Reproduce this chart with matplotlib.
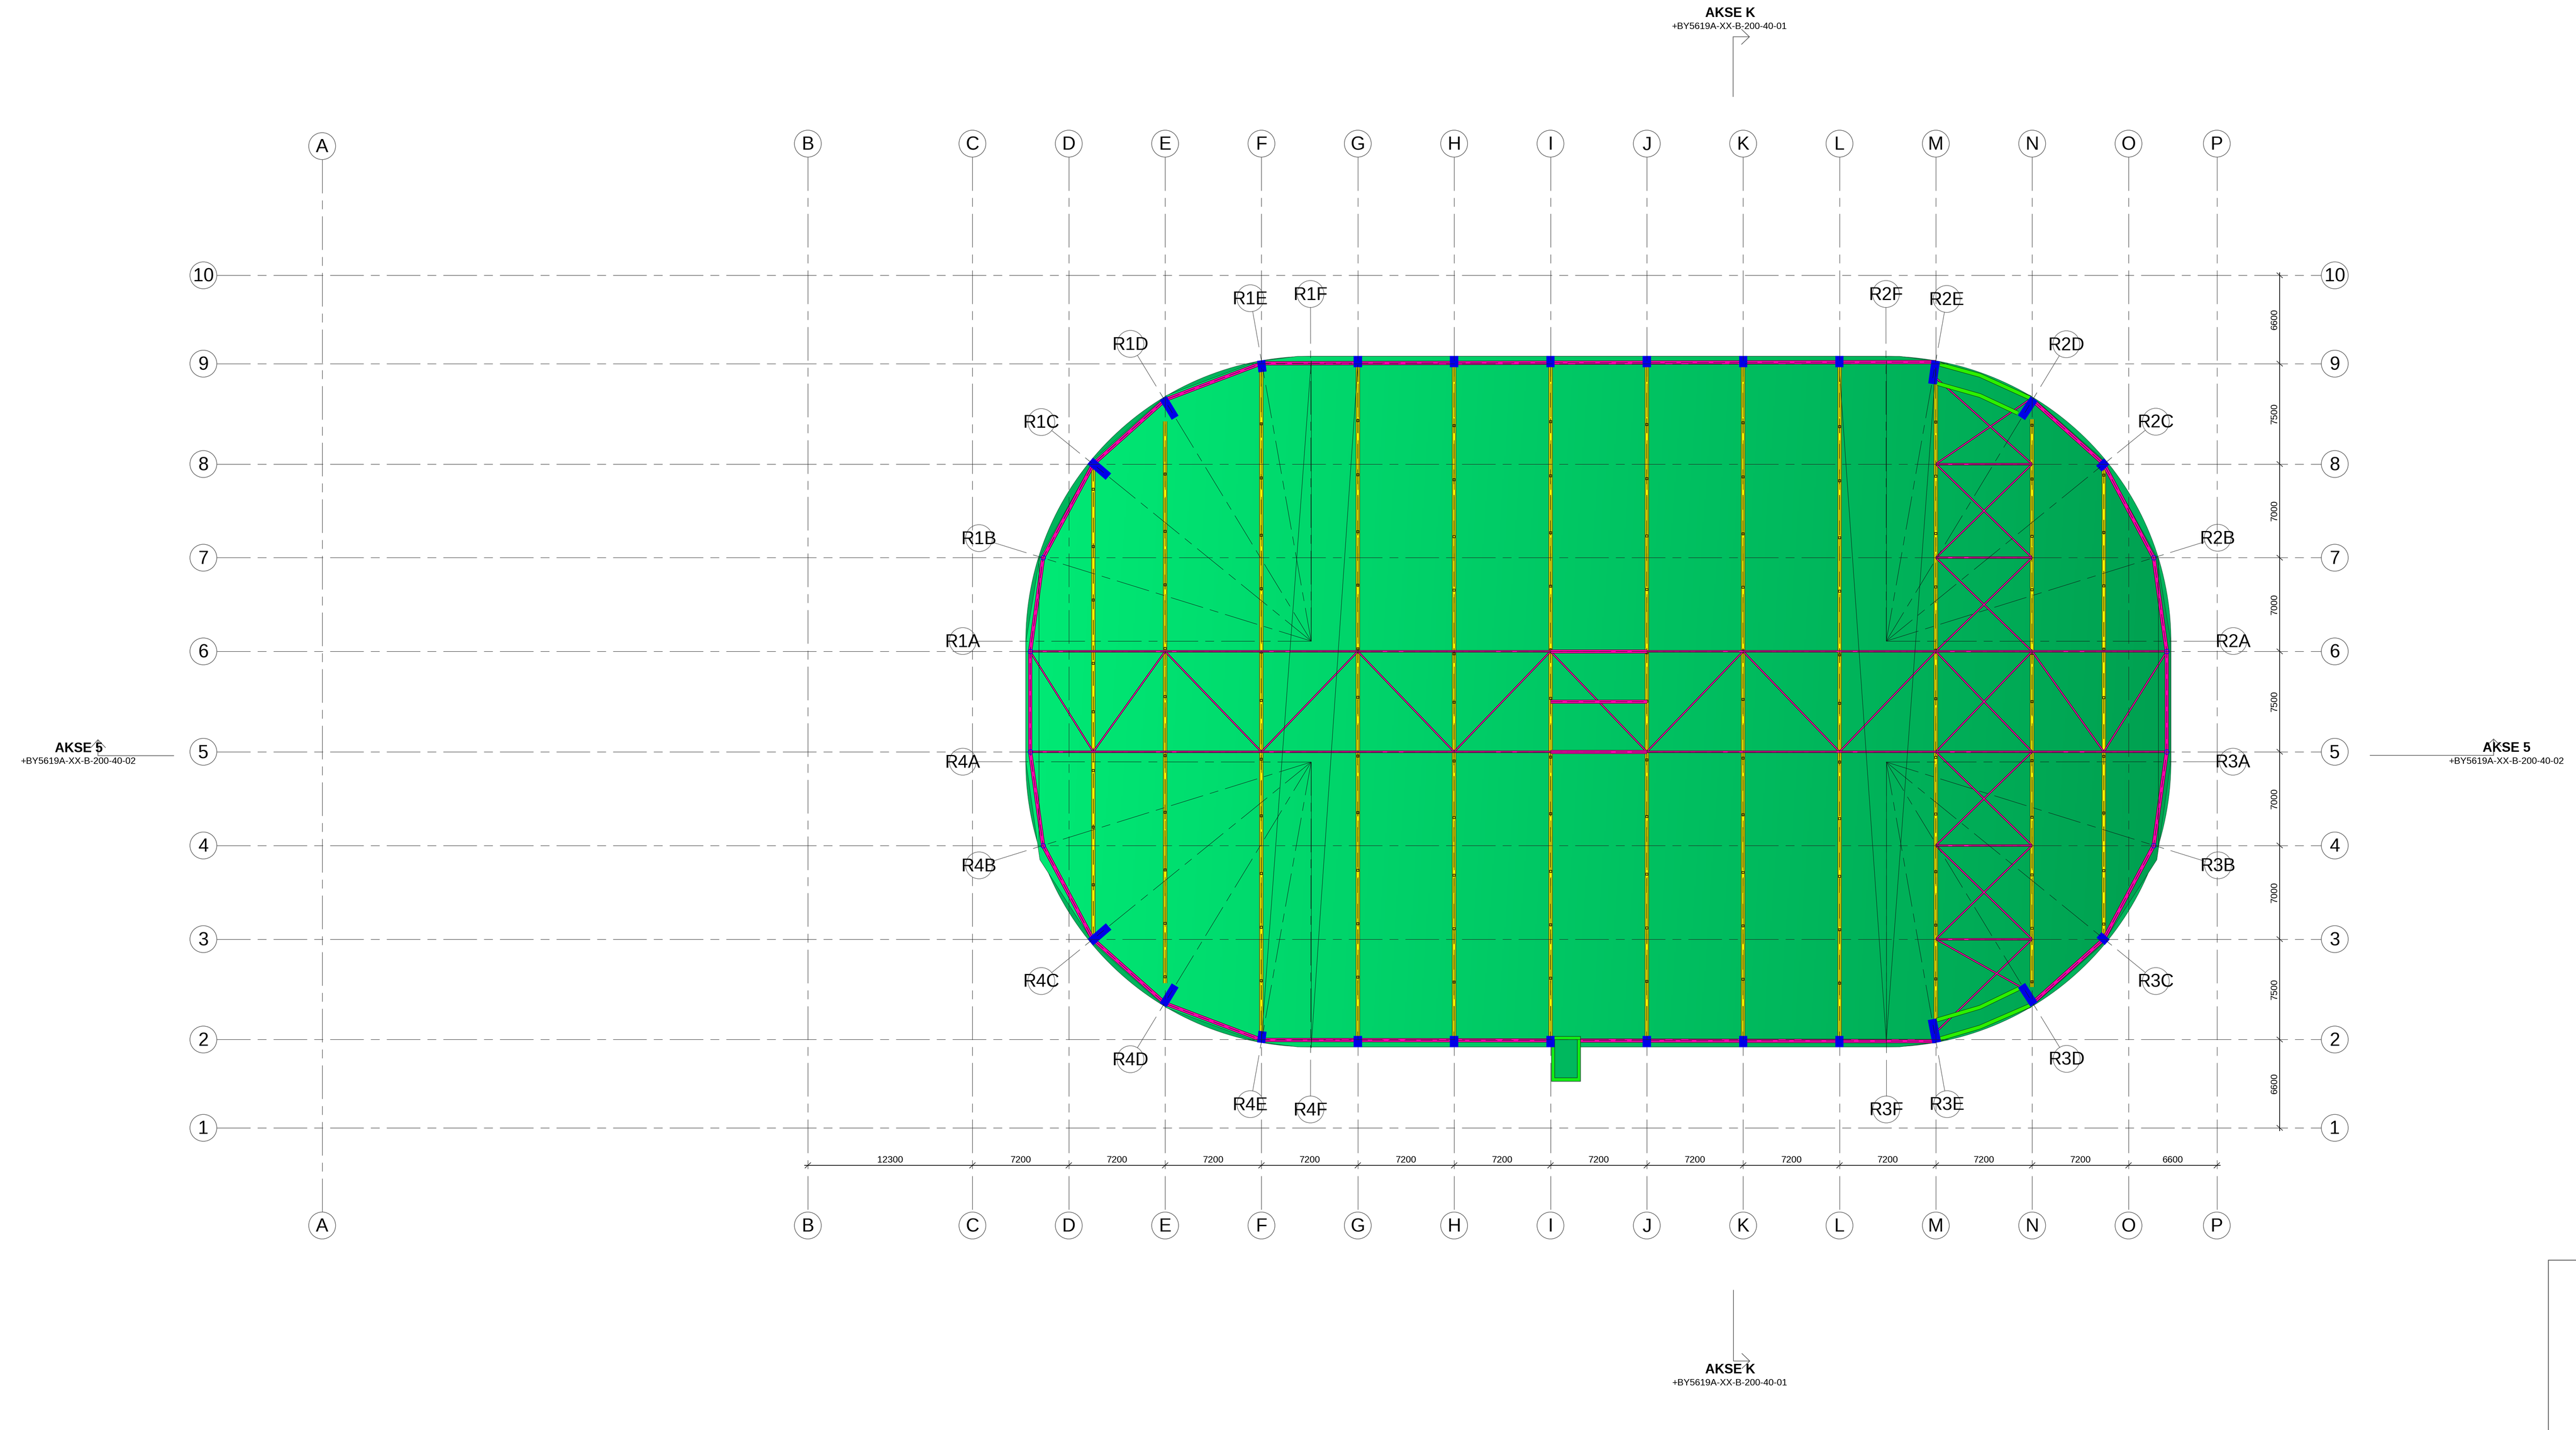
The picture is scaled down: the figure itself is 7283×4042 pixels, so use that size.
import numpy as np
import matplotlib
matplotlib.use('Agg')
import matplotlib.pyplot as plt
from matplotlib.colors import LinearSegmentedColormap
from matplotlib.path import Path
from matplotlib.patches import Circle, PathPatch, Polygon, Rectangle

plt.rcParams['font.family'] = ['Liberation Sans', 'DejaVu Sans']
plt.rcParams['lines.scale_dashes'] = False

# Grid (mm, read from the dimension strings)
col_names = list('ABCDEFGHIJKLMNOP')
col_start = 100
col_gaps = [36300, 12300, 7200, 7200, 7200, 7200, 7200, 7200, 7200, 7200, 7200, 7200, 7200, 7200, 6600]
row_names = ['1', '2', '3', '4', '5', '6', '7', '8', '9', '10']
row_gaps = [6600, 7500, 7000, 7000, 7500, 7000, 7000, 7500, 6600]

# Roof outline and inner fill polygon
roof_left, roof_right, roof_bottom, roof_top, roof_radius = 52683, 138275, 6050, 57650, 21360
inner_x = [69971, 73000, 118000, 120987, 127780, 133120, 137217, 138260, 138260, 137217, 133120, 127780,
           120987, 118000, 73000, 69971, 63178, 57838, 53741, 52700, 52700, 53741, 57838, 63178]
inner_y = [57256, 57650, 57650, 57256, 54719, 50013, 42665, 36349, 27351, 20035, 13687, 8981,
           6444, 6050, 6050, 6444, 8981, 13687, 20035, 27351, 36349, 42665, 50013, 54719]

# Perimeter members
west_x = [120700, 70300, 63100, 57732, 53978, 53014, 53014, 53978, 57700, 63100, 70300, 120700]
west_y = [57220, 57130, 54400, 49600, 42600, 35600, 28100, 21100, 14100, 9300, 6570, 6480]
east_x = [127900, 133254, 136983, 137958, 137958, 136983, 133254, 127900]
east_y = [54400, 49600, 42600, 35600, 28100, 21100, 14100, 9300]

# Lime curved members at the east corners
lime_lines = [
    ([121017, 124002, 127782], [57046, 56225, 54507]),
    ([120830, 124002, 126830], [55617, 54718, 53397]),
    ([121044, 124002, 127729], [6661, 7534, 9146]),
    ([120777, 124002, 126962], [8062, 9014, 10441]),
]

# Yellow purlins
beam_x = [57732, 63100, 70300, 77500, 84700, 91900, 99100, 106300, 113500, 120700, 127900, 133254]
beam_top = [49400, 52800, 56500, 56830, 56830, 56830, 56830, 56830, 56830, 55590, 52950, 49250]
beam_bottom = [14500, 10800, 6950, 6880, 6880, 6880, 6880, 6880, 6880, 8140, 10520, 14480]
rung_y = [52600, 48560, 44280, 40290, 35550, 31930, 27540, 23310, 19000, 15000, 11000]
rung_shift = [-850, 280, 0, 250, -120, 170, -60, 90, -200, 140, -90, 220]

# Bracing (x1, y1, x2, y2)
brace_lines = [
    (53014, 35600, 57732, 28100), (57732, 28100, 63100, 35600), (63100, 35600, 70300, 28100),
    (70300, 28100, 77500, 35600), (77500, 35600, 84700, 28100), (84700, 28100, 91900, 35600),
    (91900, 35600, 99100, 28100), (99100, 28100, 106300, 35600), (106300, 35600, 113500, 28100),
    (113500, 28100, 120700, 35600), (120700, 35600, 127900, 28100), (127900, 35600, 120700, 28100),
    (127900, 35600, 133254, 28100), (133254, 28100, 137958, 35600),
    (120700, 56040, 127900, 49600), (127680, 54400, 120700, 49600),
    (120700, 49600, 127900, 42600), (127900, 49600, 120700, 42600),
    (120700, 42600, 127900, 35600), (127900, 42600, 120700, 35600),
    (120700, 28100, 127900, 21100), (127900, 28100, 120700, 21100),
    (120700, 21100, 127900, 14100), (127900, 21100, 120700, 14100),
    (120700, 14100, 126960, 10570), (127900, 14100, 120830, 7270),
]
chord_lines = [
    (53014, 35600, 137958, 35600), (53014, 28100, 137958, 28100),
    (120700, 49600, 127900, 49600), (120700, 42600, 127900, 42600),
    (120700, 21100, 127900, 21100), (120700, 14100, 127900, 14100),
]
thick_bay_y = [35600, 31853, 28100]
thick_bay_x = (91900, 99100)

# Blue end plates: centre x, centre y, length, width, angle
plates = [
    (58181, 49247, 1800, 634, -40.8), (63403, 53793, 1720, 600, -58.7), (70328, 56913, 870, 610, -83),
    (120566, 56449, 1745, 634, -98), (127570, 53767, 1700, 640, 56.3), (133175, 49524, 793, 608, 43.7),
    (58200, 14459, 1800, 634, 40.8), (63403, 9907, 1720, 600, 58.7), (70328, 6787, 870, 610, 83),
    (120592, 7243, 1780, 660, -78.9), (127570, 9939, 1700, 640, -56.8), (133200, 14142, 820, 560, -42),
]
top_plate_x = [77500, 84700, 91900, 99100, 106300, 113500]
top_plate_y = 57260
bottom_plate_y = 6440

node_x = [53014, 53978, 53014, 53978, 137958, 136983, 137958, 136983]
node_y = [35600, 42600, 28100, 21100, 35600, 42600, 28100, 21100]

# Door on the south side
door_outer = (91965, 3500, 2168, 3357)
door_inner = (92203, 3754, 1691, 2854)

# Tag labels and where their leader lines meet
hubs = {'R1': (74015, 36373), 'R2': (116997, 36373), 'R3': (116997, 27333), 'R4': (74015, 27333)}
tag_names = ['R1A', 'R1B', 'R1C', 'R1D', 'R1E', 'R1F', 'R2F', 'R2E', 'R2D', 'R2C', 'R2B', 'R2A',
             'R3A', 'R3B', 'R3C', 'R3D', 'R3E', 'R3F', 'R4F', 'R4E', 'R4D', 'R4C', 'R4B', 'R4A']
tag_x = [47978, 49194, 53846, 60507, 69469, 73963, 116971, 121517, 130452, 137140, 141766, 142929,
         142903, 141792, 137140, 130478, 121543, 116997, 73963, 69469, 60507, 53846, 49194, 47978]
tag_y = [36373, 44065, 52736, 58578, 61988, 62305, 62305, 61935, 58552, 52762, 44092, 36373,
         27359, 19614, 10970, 5155, 1771, 1375, 1375, 1771, 5128, 10970, 19614, 27359]

# Long thin lines across the roof
tie_lines = [
    (74015, 57300, 70300, 6500), (77500, 57000, 74015, 6000),
    (113500, 56500, 116997, 6500), (120700, 56800, 116997, 6500),
    (74015, 57300, 74015, 36373), (74015, 27333, 74015, 6000),
    (116997, 57300, 116997, 36373), (116997, 27333, 116997, 6000),
    (53662, 42600, 53662, 21100), (137328, 42600, 137328, 21100),
]

# Section marks: text position, line and arrow head
section_texts = [
    ('AKSE K', '+BY5619A-XX-B-200-40-01', 105327, 83347, 105287, 82290),
    ('AKSE K', '+BY5619A-XX-B-200-40-01', 105340, -18002, 105313, -19059),
    ('AKSE 5', '+BY5619A-XX-B-200-40-02', -18081, 28417, -18107, 27386),
    ('AKSE 5', '+BY5619A-XX-B-200-40-02', 163364, 28443, 163364, 27386),
]
section_lines = [
    ([105551, 105551, 106767], [77064, 81522, 81522]),
    ([106186, 106767, 106186], [82078, 81522, 80967]),
    ([105578, 105578, 106793], [-12133, -17420, -17420]),
    ([106213, 106793, 106213], [-16865, -17420, -17975]),
    ([-10997, -16653, -16653], [27809, 27809, 28999]),
    ([-17182, -16653, -16099], [28417, 28999, 28417]),
    ([153159, 162384, 162384], [27835, 27835, 29051]),
    ([161805, 162384, 162968], [28496, 29051, 28496]),
]
frame_x = [200000, 166480, 166480]
frame_y = [-9886, -9886, -40000]

# Sheet placement: 1 px = 1 / 0.03783 mm
PX = 1 / 0.03783
x_left, x_right = -907 * PX, (7283 - 907) * PX
y_bottom, y_top = (3188 - 4042) * PX, 3188 * PX

col_x = col_start + np.concatenate([[0], np.cumsum(col_gaps)])
row_y = np.concatenate([[0], np.cumsum(row_gaps)])

GRID = (0, (68.4, 14.4, 18, 14.4))
R_LABEL = 38 * PX
TEXT_DROP = 90


def px(v):
    # line width in points from a width in sheet pixels
    return v / 1.389


def beam(ax, xs, ys, width, color, z=4, edge='#2b1022', dash=True):
    ax.plot(xs, ys, color=edge, lw=px(width), solid_capstyle='butt', solid_joinstyle='miter', zorder=z)
    ax.plot(xs, ys, color=color, lw=px(width - 2.4), solid_capstyle='butt', solid_joinstyle='miter', zorder=z + 0.1)
    if dash:
        ax.plot(xs, ys, color='#30102a', lw=px(1.3), ls=(0, (24, 9)), zorder=z + 0.2)


fig = plt.figure(figsize=(72.83, 40.42), dpi=100)
ax = fig.add_axes([0, 0, 1, 1])

# Roof fill
k = 0.5523 * roof_radius
l, r, b, t, rad = roof_left, roof_right, roof_bottom, roof_top, roof_radius
verts = [(l + rad, b), (r - rad, b), (r - rad + k, b), (r, b + rad - k), (r, b + rad),
         (r, t - rad), (r, t - rad + k), (r - rad + k, t), (r - rad, t), (l + rad, t),
         (l + rad - k, t), (l, t - rad + k), (l, t - rad), (l, b + rad), (l, b + rad - k),
         (l + rad - k, b), (l + rad, b)]
codes = [Path.MOVETO, Path.LINETO, Path.CURVE4, Path.CURVE4, Path.CURVE4, Path.LINETO,
         Path.CURVE4, Path.CURVE4, Path.CURVE4, Path.LINETO, Path.CURVE4, Path.CURVE4,
         Path.CURVE4, Path.LINETO, Path.CURVE4, Path.CURVE4, Path.CURVE4]
outer = PathPatch(Path(verts, codes), facecolor='#00B45C', edgecolor='#1d5c3a', lw=px(1.2), zorder=1)
ax.add_patch(outer)

inner = Polygon(np.column_stack([inner_x, inner_y]), closed=True, facecolor='none',
                edgecolor='#123d28', lw=px(1.0), zorder=2.1)
ax.add_patch(inner)
gx, gy = np.meshgrid(np.linspace(0, 1, 800), np.linspace(0, 1, 400))
roof_cmap = LinearSegmentedColormap.from_list('roof', ['#00E874', '#009F50'], N=1024)
im = ax.imshow(gx - 0.04 * gy, cmap=roof_cmap, origin='lower', aspect='auto', vmin=0, vmax=1,
               extent=(roof_left, roof_right, roof_bottom, roof_top), zorder=2)
im.set_clip_path(inner)

# Yellow purlins with their small connection marks
for i, bx in enumerate(beam_x):
    ys = [beam_top[i], beam_bottom[i]]
    ax.plot([bx, bx], ys, color='#2e3a0a', lw=px(12), solid_capstyle='butt', zorder=3)
    ax.plot([bx, bx], ys, color='#B0AC00', lw=px(10), solid_capstyle='butt', zorder=3.1)
    ax.plot([bx, bx], ys, color='#FFFF00', lw=px(4.5), solid_capstyle='butt', zorder=3.2)
    ax.plot([bx, bx], ys, color='#141400', lw=px(1.6), ls=(0, (30, 22)), zorder=3.3)
    marks = [y + rung_shift[i] for y in rung_y if beam_bottom[i] + 300 < y + rung_shift[i] < beam_top[i] - 300]
    ax.plot([bx] * len(marks), marks, ls='none', marker='s', ms=px(7), mfc='none', mec='#111100', mew=px(1.8), zorder=3.4)

# Trusses
for x1, y1, x2, y2 in brace_lines:
    beam(ax, [x1, x2], [y1, y2], 5, '#FF00AA', z=4, dash=False)
for x1, y1, x2, y2 in chord_lines:
    beam(ax, [x1, x2], [y1, y2], 6.5, '#FF00AA', z=4.3)
for y in thick_bay_y:
    beam(ax, list(thick_bay_x), [y, y], 11, '#FF00AA', z=4.5)
beam(ax, west_x, west_y, 11.5, '#FF00AA', z=4.6)
beam(ax, east_x, east_y, 11.5, '#FF00AA', z=4.6)
for xs, ys in lime_lines:
    beam(ax, xs, ys, 12, '#2BF000', z=4.7, edge='#0d3a0d', dash=False)

# Door
ax.add_patch(Rectangle(door_outer[:2], door_outer[2], door_outer[3], fc='#14EE14', ec='#123d28', lw=px(1.5), zorder=5))
ax.add_patch(Rectangle(door_inner[:2], door_inner[2], door_inner[3], fc='#00B85E', ec='#123d28', lw=px(1.5), zorder=5.1))

# Blue plates
for cx, cy, length, width, ang in plates:
    ax.add_patch(Rectangle((cx - length / 2, cy - width / 2), length, width, angle=ang, rotation_point='center',
                           fc='#0000E8', ec='none', zorder=6))
for bx in top_plate_x:
    for cy in (top_plate_y, bottom_plate_y):
        ax.add_patch(Rectangle((bx - 310, cy - 420), 620, 840, fc='#0000E8', ec='none', zorder=6))
ax.plot(node_x, node_y, ls='none', marker='o', ms=px(13), mfc='none', mec='#1010E0', mew=px(2), zorder=6.5)

# Thin lines over the roof
for x1, y1, x2, y2 in tie_lines:
    ax.plot([x1, x2], [y1, y2], color='#0b2a1a', lw=px(1.2), zorder=7)

# Grid lines
for name, x in zip(col_names, col_x):
    top = 73355 if name == 'A' else 73540
    ax.plot([x, x], [top - R_LABEL, -7296 + R_LABEL], color='#222222', lw=px(1.15), ls=GRID, zorder=7)
    for yc in (top, -7296):
        ax.add_patch(Circle((x, yc), R_LABEL, fc='white', ec='#555555', lw=px(1.6), zorder=8))
        ax.text(x, yc - TEXT_DROP, name, fontsize=38, ha='center', va='center', zorder=9)

for name, y in zip(row_names, row_y):
    ax.plot([-8776 + R_LABEL, 150516 - R_LABEL], [y, y], color='#222222', lw=px(1.15), ls=GRID, zorder=7)
    for xc in (-8776, 150516):
        ax.add_patch(Circle((xc, y), R_LABEL, fc='white', ec='#555555', lw=px(1.6), zorder=8))
        ax.text(xc, y - TEXT_DROP, name, fontsize=38, ha='center', va='center', zorder=9)

# Dimension strings
dim_y = -2802
dim_x = 146400
ax.plot([col_x[1] - 250, col_x[-1] + 250], [dim_y, dim_y], color='#111111', lw=px(2.2), zorder=7)
for x in col_x[1:]:
    ax.plot([x - 210, x + 210], [dim_y - 200, dim_y + 200], color='#111111', lw=px(1.6), zorder=7)
for i, gap in enumerate(col_gaps[1:]):
    ax.text((col_x[i + 1] + col_x[i + 2]) / 2, -2405, str(gap), fontsize=19, ha='center', va='center', zorder=9)

ax.plot([dim_x, dim_x], [row_y[0] - 200, row_y[-1] + 200], color='#111111', lw=px(2.2), zorder=7)
for y in row_y:
    ax.plot([dim_x - 210, dim_x + 210], [y + 185, y - 185], color='#111111', lw=px(1.6), zorder=7)
for i, gap in enumerate(row_gaps):
    ax.text(146000, (row_y[i] + row_y[i + 1]) / 2, str(gap), fontsize=19, rotation=90, ha='center', va='center', zorder=9)

# Tags with leader lines back to the hub points
for name, tx, ty in zip(tag_names, tag_x, tag_y):
    hx, hy = hubs[name[:2]]
    dist = np.hypot(hx - tx, hy - ty)
    ux, uy = (hx - tx) / dist, (hy - ty) / dist
    ax.plot([tx + ux * R_LABEL, tx + ux * 3700], [ty + uy * R_LABEL, ty + uy * 3700], color='#333333', lw=px(1.15), zorder=7)
    ax.plot([hx, tx + ux * 4230], [hy, ty + uy * 4230], color='#0f1f18', lw=px(1.15), ls=GRID, zorder=7)
    ax.add_patch(Circle((tx, ty), R_LABEL, fc='none', ec='#555555', lw=px(1.4), zorder=8))
    ax.text(tx, ty - TEXT_DROP, name, fontsize=37, ha='center', va='center', zorder=9)

# Section marks
for title, ref, x1, y1, x2, y2 in section_texts:
    ax.text(x1, y1 - TEXT_DROP, title, fontsize=27, fontweight='bold', ha='center', va='center', zorder=9)
    ax.text(x2, y2, ref, fontsize=19, ha='center', va='center', zorder=9)
for xs, ys in section_lines:
    ax.plot(xs, ys, color='#555555', lw=px(1.8), solid_joinstyle='miter', zorder=7)

# Corner of the title block
ax.plot(frame_x, frame_y, color='#555555', lw=px(2.2), solid_joinstyle='miter', zorder=7)

ax.set_xlim(x_left, x_right)
ax.set_ylim(y_bottom, y_top)
ax.axis('off')

fig.savefig('out.png', dpi=100, facecolor='white')
